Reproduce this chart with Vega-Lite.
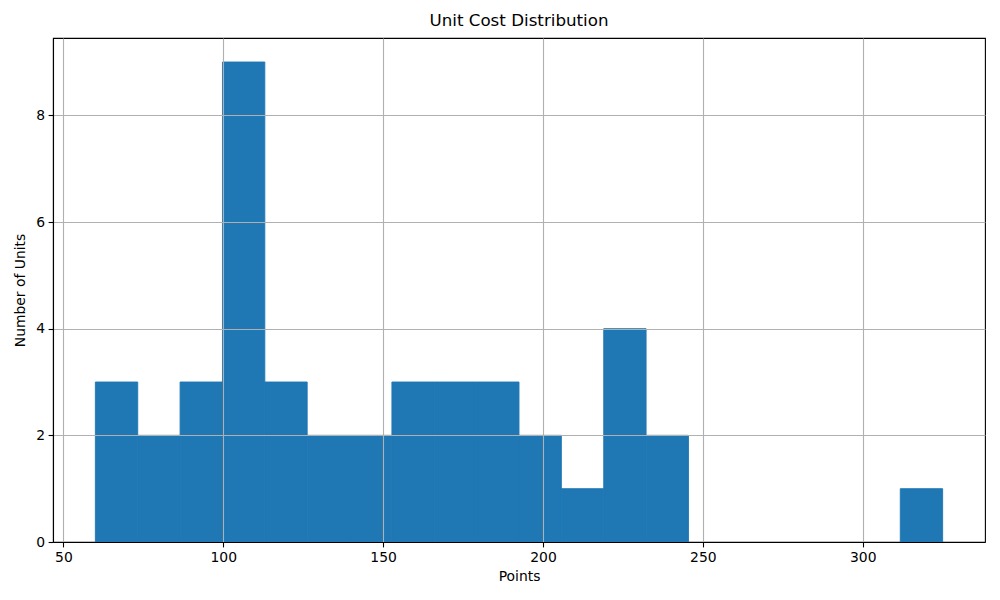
{
  "$schema": "https://vega.github.io/schema/vega-lite/v6.json",
  "width": 932,
  "height": 504,
  "autosize": "none",
  "padding": {"left": 53, "top": 38, "right": 15, "bottom": 58},
  "title": {"text": "Unit Cost Distribution", "fontSize": 16.7, "font": "DejaVu Sans", "fontWeight": "normal", "color": "black", "offset": 8},
  "data": {
    "values": [
      {"bin_start": 60.0, "bin_end": 73.25, "count": 3},
      {"bin_start": 73.25, "bin_end": 86.5, "count": 2},
      {"bin_start": 86.5, "bin_end": 99.75, "count": 3},
      {"bin_start": 99.75, "bin_end": 113.0, "count": 9},
      {"bin_start": 113.0, "bin_end": 126.25, "count": 3},
      {"bin_start": 126.25, "bin_end": 139.5, "count": 2},
      {"bin_start": 139.5, "bin_end": 152.75, "count": 2},
      {"bin_start": 152.75, "bin_end": 166.0, "count": 3},
      {"bin_start": 166.0, "bin_end": 179.25, "count": 3},
      {"bin_start": 179.25, "bin_end": 192.5, "count": 3},
      {"bin_start": 192.5, "bin_end": 205.75, "count": 2},
      {"bin_start": 205.75, "bin_end": 219.0, "count": 1},
      {"bin_start": 219.0, "bin_end": 232.25, "count": 4},
      {"bin_start": 232.25, "bin_end": 245.5, "count": 2},
      {"bin_start": 311.75, "bin_end": 325.0, "count": 1}
    ]
  },
  "mark": {"type": "bar", "color": "#1f77b4", "stroke": "#1f77b4", "strokeWidth": 0.9},
  "encoding": {
    "x": {
      "field": "bin_start", "type": "quantitative",
      "scale": {"domain": [46.75, 338.25], "nice": false, "zero": false},
      "axis": {"values": [50, 100, 150, 200, 250, 300], "title": "Points", "titlePadding": 5, "zindex": 1}
    },
    "x2": {"field": "bin_end"},
    "y": {
      "field": "count", "type": "quantitative",
      "scale": {"domain": [0, 9.45], "nice": false},
      "axis": {"values": [0, 2, 4, 6, 8], "title": "Number of Units", "titlePadding": 8, "zindex": 1}
    },
    "y2": {"datum": 0}
  },
  "config": {
    "view": {"stroke": "black", "strokeWidth": 1.1},
    "axis": {
      "grid": true,
      "gridColor": "#b0b0b0",
      "gridWidth": 1.1,
      "domainColor": "black",
      "domainWidth": 1.1,
      "tickColor": "black",
      "tickWidth": 1.1,
      "tickSize": 4.9,
      "labelPadding": 3.5,
      "labelFont": "DejaVu Sans",
      "labelFontSize": 13.9,
      "labelColor": "black",
      "titleFont": "DejaVu Sans",
      "titleFontSize": 13.9,
      "titleFontWeight": "normal",
      "titleColor": "black"
    }
  }
}
